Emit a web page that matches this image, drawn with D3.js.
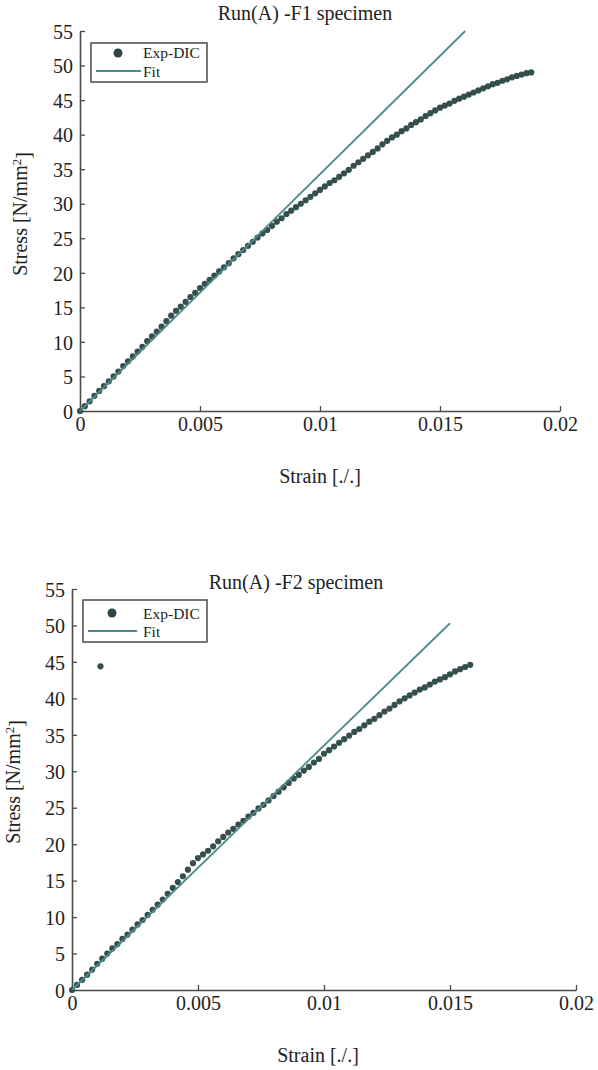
<!DOCTYPE html>
<html>
<head>
<meta charset="utf-8">
<script src="https://cdn.jsdelivr.net/npm/d3@7"></script>
<style>
  html, body { margin: 0; padding: 0; background: #fff; }
  svg { display: block; }
  text { font-family: "Liberation Serif", "Times New Roman", serif; fill: #222; }
</style>
</head>
<body>
<svg id="chart" width="598" height="1070"></svg>
<script>
// ---------- DATA ----------
const xTicks = [0, 0.005, 0.01, 0.015, 0.02];
const xTickLabels = ["0", "0.005", "0.01", "0.015", "0.02"];
const yTicks = [0, 5, 10, 15, 20, 25, 30, 35, 40, 45, 50, 55];

const titles = ["Run(A) -F1 specimen", "Run(A) -F2 specimen"];
const seriesNames = ["Exp-DIC", "Fit"];

// F1 specimen – experimental DIC points
const f1Strain = [0,0.0002,0.0004,0.0006,0.0008,0.0010,0.0012,0.0014,0.0016,0.0018,
  0.0020,0.0022,0.0024,0.0026,0.0028,0.0030,0.0032,0.0034,0.0036,0.0038,
  0.0040,0.0042,0.0044,0.0046,0.0048,0.0050,0.0052,0.0054,0.0056,0.0058,
  0.0060,0.0062,0.0064,0.0066,0.0068,0.0070,0.0072,0.0074,0.0076,0.0078,
  0.0080,0.0082,0.0084,0.0086,0.0088,0.0090,0.0092,0.0094,0.0096,0.0098,
  0.0100,0.0102,0.0104,0.0106,0.0108,0.0110,0.0112,0.0114,0.0116,0.0118,
  0.0120,0.0122,0.0124,0.0126,0.0128,0.0130,0.0132,0.0134,0.0136,0.0138,
  0.0140,0.0142,0.0144,0.0146,0.0148,0.0150,0.0152,0.0154,0.0156,0.0158,
  0.0160,0.0162,0.0164,0.0166,0.0168,0.0170,0.0172,0.0174,0.0176,0.0178,
  0.0180,0.0182,0.0184,0.0186,0.0188];
const f1Stress = [0.0,0.7,1.4,2.2,2.9,3.6,4.3,5.0,5.7,6.5,
  7.2,7.9,8.6,9.3,10.1,10.8,11.5,12.2,13.0,13.8,
  14.5,15.1,15.8,16.5,17.1,17.8,18.4,19.0,19.6,20.2,
  20.8,21.4,22.1,22.7,23.3,23.9,24.5,25.1,25.7,26.2,
  26.8,27.4,27.9,28.5,29.0,29.5,30.0,30.5,31.0,31.5,
  32.0,32.5,33.0,33.4,33.9,34.4,34.9,35.5,36.0,36.5,
  37.0,37.5,38.0,38.6,39.1,39.6,40.0,40.5,40.9,41.4,
  41.8,42.2,42.7,43.1,43.5,43.9,44.2,44.5,44.9,45.2,
  45.5,45.8,46.1,46.4,46.7,47.0,47.3,47.5,47.8,48.0,
  48.3,48.5,48.7,48.9,49.0];
// F1 linear fit (end points)
const f1FitStrain = [0, 0.01605];
const f1FitStress = [0, 55];

// F2 specimen – experimental DIC points
const f2Strain = [0,0.0002,0.0004,0.0006,0.0008,0.0010,0.0012,0.0014,0.0016,0.0018,
  0.0020,0.0022,0.0024,0.0026,0.0028,0.0030,0.0032,0.0034,0.0036,0.0038,
  0.0040,0.0042,0.0044,0.0046,0.0048,0.0050,0.0052,0.0054,0.0056,0.0058,
  0.0060,0.0062,0.0064,0.0066,0.0068,0.0070,0.0072,0.0074,0.0076,0.0078,
  0.0080,0.0082,0.0084,0.0086,0.0088,0.0090,0.0092,0.0094,0.0096,0.0098,
  0.0100,0.0102,0.0104,0.0106,0.0108,0.0110,0.0112,0.0114,0.0116,0.0118,
  0.0120,0.0122,0.0124,0.0126,0.0128,0.0130,0.0132,0.0134,0.0136,0.0138,
  0.0140,0.0142,0.0144,0.0146,0.0148,0.0150,0.0152,0.0154,0.0156,0.0158,
  0.00113];
const f2Stress = [0.0,0.7,1.4,2.1,2.8,3.6,4.3,5.0,5.7,6.3,
  7.0,7.6,8.3,9.0,9.6,10.3,11.0,11.7,12.4,13.2,
  14.0,14.8,15.6,16.5,17.4,18.1,18.6,19.1,19.7,20.4,
  21.0,21.6,22.1,22.7,23.2,23.8,24.3,24.9,25.4,26.0,
  26.6,27.2,27.8,28.4,29.0,29.5,30.1,30.6,31.2,31.7,
  32.4,32.9,33.4,33.9,34.4,34.9,35.4,35.8,36.3,36.8,
  37.2,37.7,38.2,38.6,39.1,39.6,40.0,40.4,40.8,41.2,
  41.5,41.9,42.3,42.6,42.9,43.3,43.7,44.0,44.3,44.6,
  44.4];
// F2 linear fit (end points)
const f2FitStrain = [0, 0.0150];
const f2FitStress = [0, 50.3];

// ---------- STYLE / LAYOUT ----------
const dotColor = "#2a4646";
const fitColor = "#4d8a8a";
const axisColor = "#4a4a4a";

const panels = [
  { title: titles[0], strain: f1Strain, stress: f1Stress, fitS: f1FitStrain, fitT: f1FitStress,
    x0: 80, x1: 560, yBot: 411, yTop: 31, titleX: 305, titleY: 20,
    yLabX: 27, yLabY: 214, xLabX: 320, xLabY: 483,
    leg: { x: 91, y: 43, w: 116, h: 39, dotX: 118, dotY: 53, lineX0: 96, lineX1: 141, lineY: 71, textX: 143, t1Y: 58, t2Y: 77 } },
  { title: titles[1], strain: f2Strain, stress: f2Stress, fitS: f2FitStrain, fitT: f2FitStress,
    x0: 72, x1: 576, yBot: 990, yTop: 589, titleX: 296, titleY: 589,
    yLabX: 20, yLabY: 782, xLabX: 318, xLabY: 1062,
    leg: { x: 83, y: 600, w: 124, h: 42, dotX: 112, dotY: 613, lineX0: 88, lineX1: 137, lineY: 631, textX: 143, t1Y: 619, t2Y: 637 } }
];

const svg = d3.select("#chart");

panels.forEach(p => {
  const x = d3.scaleLinear().domain([0, 0.02]).range([p.x0, p.x1]);
  const y = d3.scaleLinear().domain([0, 55]).range([p.yBot, p.yTop]);
  const g = svg.append("g");

  // axes
  const xAxis = d3.axisBottom(x).tickValues(xTicks)
    .tickFormat((d, i) => xTickLabels[i]).tickSizeInner(-5).tickSizeOuter(0).tickPadding(6);
  const yAxis = d3.axisLeft(y).tickValues(yTicks)
    .tickFormat(d3.format("d")).tickSizeInner(-5).tickSizeOuter(0).tickPadding(7);

  const gx = g.append("g").attr("transform", `translate(0,${p.yBot})`).call(xAxis);
  const gy = g.append("g").attr("transform", `translate(${p.x0},0)`).call(yAxis);
  [gx, gy].forEach(a => {
    a.select(".domain").attr("stroke", axisColor).attr("stroke-width", 1.6);
    a.selectAll(".tick line").attr("stroke", axisColor).attr("stroke-width", 1.3);
    a.selectAll(".tick text").attr("fill", "#222")
      .style("font-family", '"Liberation Serif", serif').style("font-size", "20px");
  });
  gy.selectAll(".tick text").attr("dy", "0.36em");
  gx.selectAll(".tick text").attr("dy", "0.72em");

  // experimental points
  const pts = p.strain.map((s, i) => [s, p.stress[i]]);
  g.append("g").selectAll("circle").data(pts).join("circle")
    .attr("cx", d => x(d[0])).attr("cy", d => y(d[1]))
    .attr("r", 3.1).attr("fill", dotColor).attr("fill-opacity", 0.95);

  // fit line
  const fitPts = p.fitS.map((s, i) => [s, p.fitT[i]]);
  g.append("path").datum(fitPts)
    .attr("d", d3.line().x(d => x(d[0])).y(d => y(d[1])))
    .attr("fill", "none").attr("stroke", fitColor).attr("stroke-width", 1.8);

  // titles & labels
  g.append("text").attr("x", p.titleX).attr("y", p.titleY)
    .attr("text-anchor", "middle").style("font-size", "20px").text(p.title);
  g.append("text").attr("x", p.xLabX).attr("y", p.xLabY)
    .attr("text-anchor", "middle").style("font-size", "20px").text("Strain [./.]");
  const yl = g.append("text")
    .attr("transform", `translate(${p.yLabX},${p.yLabY}) rotate(-90)`)
    .attr("text-anchor", "middle").style("font-size", "20px");
  yl.append("tspan").text("Stress [N/mm");
  yl.append("tspan").attr("dy", "-0.45em").style("font-size", "13px").text("2");
  yl.append("tspan").attr("dy", "0.45em").text("]");

  // legend
  const L = p.leg;
  g.append("rect").attr("x", L.x).attr("y", L.y).attr("width", L.w).attr("height", L.h)
    .attr("fill", "#fff").attr("stroke", "#555").attr("stroke-width", 1.6);
  g.append("circle").attr("cx", L.dotX).attr("cy", L.dotY).attr("r", 4.5).attr("fill", dotColor);
  g.append("line").attr("x1", L.lineX0).attr("x2", L.lineX1).attr("y1", L.lineY).attr("y2", L.lineY)
    .attr("stroke", fitColor).attr("stroke-width", 2.2);
  g.append("text").attr("x", L.textX).attr("y", L.t1Y).style("font-size", "15.5px").text(seriesNames[0]);
  g.append("text").attr("x", L.textX).attr("y", L.t2Y).style("font-size", "15.5px").text(seriesNames[1]);
});
</script>
</body>
</html>
